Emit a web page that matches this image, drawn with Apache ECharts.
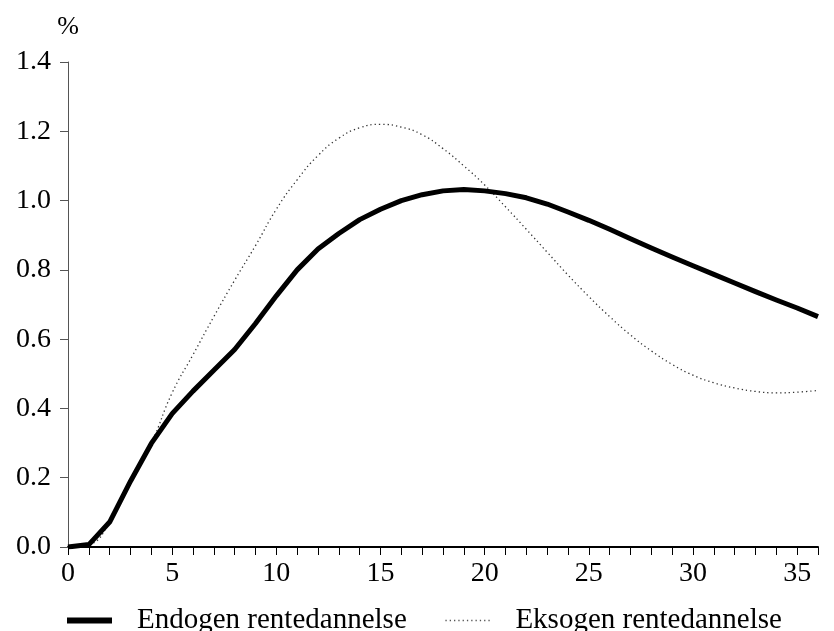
<!DOCTYPE html>
<html>
<head>
<meta charset="utf-8">
<script src="https://cdn.jsdelivr.net/npm/echarts@6/dist/echarts.min.js"></script>
<style>
  html, body { margin: 0; padding: 0; background: #fff; }
  #chart { width: 834px; height: 631px; }
</style>
</head>
<body>
<div id="chart"></div>
<script>
// Quarters after the shock
const quarters = Array.from({ length: 37 }, (_, i) => i);

// Response in percent, endogenous interest rate formation
const endogen = [
  0.000, 0.007, 0.072, 0.190, 0.299, 0.385, 0.450, 0.510, 0.570, 0.645,
  0.725, 0.800, 0.860, 0.905, 0.945, 0.975, 1.000, 1.017, 1.028, 1.032,
  1.028, 1.020, 1.008, 0.990, 0.967, 0.943, 0.917, 0.890, 0.863, 0.837,
  0.812, 0.787, 0.762, 0.737, 0.713, 0.690, 0.665
];

// Response in percent, exogenous interest rate formation
const eksogen = [
  0.000, 0.007, 0.072, 0.190, 0.300, 0.445, 0.555, 0.665, 0.770, 0.870,
  0.975, 1.060, 1.130, 1.180, 1.210, 1.220, 1.212, 1.190, 1.150, 1.100,
  1.045, 0.982, 0.917, 0.851, 0.785, 0.723, 0.665, 0.612, 0.566, 0.527,
  0.496, 0.474, 0.459, 0.449, 0.445, 0.447, 0.452
];

const seriesNames = ['Endogen rentedannelse', 'Eksogen rentedannelse'];
const yTicks = { min: 0, max: 1.4, step: 0.2 };
const xLabelStep = 5;

const font = 'Liberation Serif, Times New Roman, serif';
const pairs = (ys) => quarters.map((q, i) => [q, ys[i]]);

const endoLine = { color: '#000', width: 5, cap: 'butt', join: 'round' };
const eksoLine = { color: '#333', width: 1.3, type: [1.3, 3] };

const chart = echarts.init(document.getElementById('chart'), null, { renderer: 'canvas' });
chart.setOption({
  animation: false,
  backgroundColor: '#ffffff',
  textStyle: { fontFamily: font, color: '#000' },
  grid: { left: 68, right: 16, top: 62, bottom: 84, containLabel: false },
  xAxis: {
    type: 'value',
    min: 0,
    max: 36,
    interval: 1,
    splitLine: { show: false },
    axisLine: { lineStyle: { color: '#000', width: 2 } },
    axisTick: { show: true, length: 8, lineStyle: { color: '#000', width: 1 } },
    axisLabel: {
      margin: 13,
      fontSize: 28,
      fontFamily: font,
      color: '#000',
      formatter: (v) => (v % xLabelStep === 0 ? String(v) : '')
    }
  },
  yAxis: {
    type: 'value',
    min: yTicks.min,
    max: yTicks.max,
    interval: yTicks.step,
    name: '%',
    nameLocation: 'end',
    nameGap: 22,
    nameTextStyle: { fontSize: 26, fontFamily: font, color: '#000', align: 'center' },
    splitLine: { show: false },
    axisLine: { show: true, lineStyle: { color: '#555', width: 1 } },
    axisTick: { show: true, length: 8, lineStyle: { color: '#555', width: 1 } },
    axisLabel: {
      margin: 17,
      fontSize: 28,
      fontFamily: font,
      color: '#000',
      formatter: (v) => v.toFixed(1)
    }
  },
  legend: {
    left: 59,
    top: 601,
    itemWidth: 45,
    itemHeight: 14,
    itemGap: 38,
    itemStyle: { opacity: 0 },
    textStyle: { fontSize: 29, fontFamily: font, color: '#000', padding: [0, 0, 0, 20] },
    data: [
      { name: seriesNames[0], lineStyle: { width: 6, color: '#000' } },
      { name: seriesNames[1], lineStyle: { width: 1.3, color: '#555', type: [1.3, 3] } }
    ]
  },
  series: [
    {
      name: seriesNames[0],
      type: 'line',
      data: pairs(endogen),
      symbol: 'none',
      smooth: false,
      lineStyle: endoLine,
      itemStyle: { color: '#000' },
      z: 3
    },
    {
      name: seriesNames[1],
      type: 'line',
      data: pairs(eksogen),
      symbol: 'none',
      smooth: 0.5,
      lineStyle: eksoLine,
      itemStyle: { color: '#333' },
      z: 2
    }
  ]
});
</script>
</body>
</html>
